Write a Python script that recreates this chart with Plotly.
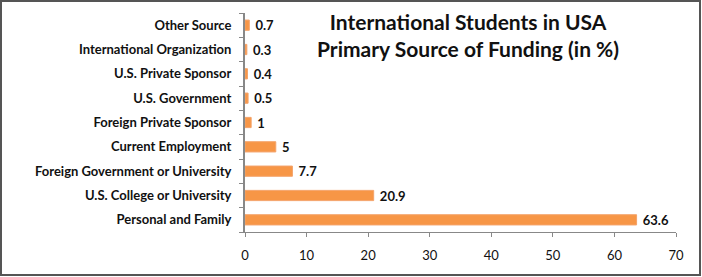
import plotly.graph_objects as go

categories = ["Personal and Family", "U.S. College or University", "Foreign Government or University",
              "Current Employment", "Foreign Private Sponsor", "U.S. Government",
              "U.S. Private Sponsor", "International Organization", "Other Source"]
values = [63.6, 20.9, 7.7, 5, 1, 0.5, 0.4, 0.3, 0.7]
x_ticks = [0, 10, 20, 30, 40, 50, 60, 70]

W, H = 702, 277
L, R, T, B = 245, 26, 13, 45
pw, ph = W - L - R, H - T - B

fig = go.Figure(go.Bar(
    y=categories, x=values, orientation="h",
    marker=dict(color="#F79646", line=dict(color="#F4A36A", width=1)),
    width=0.42,
    text=[f"\u00a0{v:g}" for v in values], textposition="outside",
    constraintext="none",
    cliponaxis=False,
))

def px_x(p):
    return (p - L) / pw

def px_y(p):
    return 1 - (p - T) / ph

fig.update_layout(
    width=W, height=H,
    margin=dict(l=L, r=R, t=T, b=B),
    paper_bgcolor="white", plot_bgcolor="white",
    showlegend=False,
    font=dict(family="Lato", color="#111111"),
    xaxis=dict(range=[0, 70], tickvals=x_ticks, showgrid=False, zeroline=False,
               showline=True, linecolor="#888888", linewidth=1,
               ticks="outside", ticklen=4, tickcolor="#888888",
               ticklabelstandoff=7,
               tickfont=dict(family="Lato", size=13, color="#111111")),
    yaxis=dict(showgrid=False, zeroline=False, showline=True, linecolor="#888888", linewidth=2,
               ticks="outside", ticklen=4, tickcolor="#888888", tickson="boundaries",
               ticklabelstandoff=9),
    annotations=[dict(
        text="<b>International Students in USA</b><br><b>Primary Source of Funding (in %)</b>",
        xref="paper", yref="paper", x=px_x(468), y=px_y(35), xanchor="center", yanchor="middle",
        showarrow=False, font=dict(family="Lato", size=21, color="#111111"), align="center")],
    shapes=[dict(type="rect", xref="paper", yref="paper",
                 x0=px_x(1), x1=px_x(700), y0=px_y(1), y1=px_y(275),
                 line=dict(color="#555555", width=2), layer="above")],
)
fig.update_yaxes(tickfont=dict(family="Lato", size=13, color="#111111", weight="bold"))
fig.update_traces(textfont=dict(family="Lato", size=13, color="#111111", weight="bold"))
fig.write_html("out.html")
